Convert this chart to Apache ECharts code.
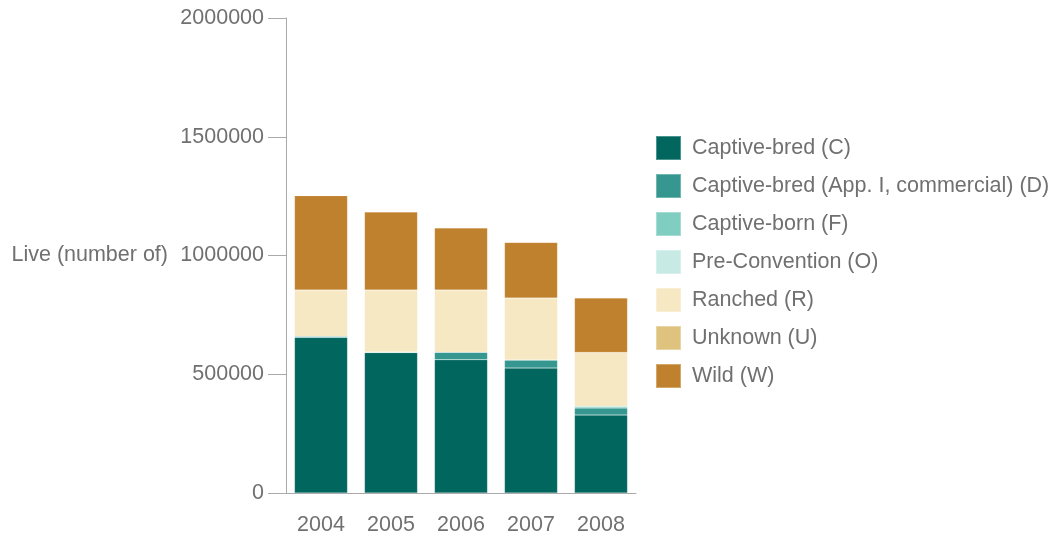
<!DOCTYPE html>
<html>
<head>
<meta charset="utf-8">
<script src="https://cdn.jsdelivr.net/npm/echarts@6/dist/echarts.min.js"></script>
<style>html,body{margin:0;padding:0;background:#fff}#c{width:1060px;height:537px}</style>
</head>
<body>
<div id="c"></div>
<script>
var years = ['2004', '2005', '2006', '2007', '2008'];
var yTicks = [0, 500000, 1000000, 1500000, 2000000];
var seriesNames = ['Captive-bred (C)', 'Captive-bred (App. I, commercial) (D)', 'Captive-born (F)', 'Pre-Convention (O)', 'Ranched (R)', 'Unknown (U)', 'Wild (W)'];
var captiveBred = [655000, 591000, 561000, 526000, 328000];
var captiveBredApp1 = [5000, 3000, 32000, 34000, 30000];
var captiveBorn = [0, 0, 0, 0, 7000];
var preConvention = [0, 0, 0, 0, 0];
var ranched = [195000, 261000, 262000, 261000, 227000];
var unknown = [0, 0, 0, 0, 0];
var wild = [397000, 328000, 261000, 234000, 229000];
var colors = ['#01665e', '#35978f', '#80cdc1', '#c7eae5', '#f6e8c3', '#dfc27d', '#bf812d'];

var dataSets = [captiveBred, captiveBredApp1, captiveBorn, preConvention, ranched, unknown, wild];
var textColor = '#707070';
var fontFam = '"Liberation Sans", Arial, Helvetica, sans-serif';
var fs = 21.5;

var chart = echarts.init(document.getElementById('c'), null, {renderer: 'canvas'});
chart.setOption({
  animation: false,
  color: colors,
  grid: {left: 286, top: 18, right: 424, bottom: 44, containLabel: false},
  legend: {
    orient: 'vertical', left: 655, top: 135, padding: 0,
    itemWidth: 25, itemHeight: 24, itemGap: 12,
    icon: 'rect',
    data: seriesNames,
    textStyle: {color: textColor, fontSize: fs, lineHeight: 24, fontFamily: fontFam, padding: [0, 0, 0, 6]}
  },
  xAxis: {
    type: 'category', data: years,
    axisLine: {lineStyle: {color: '#aaa', width: 1}},
    axisTick: {alignWithLabel: true, length: 12, lineStyle: {color: '#aaa'}},
    axisLabel: {color: textColor, fontSize: fs, fontFamily: fontFam, margin: 21}
  },
  yAxis: {
    type: 'value', min: yTicks[0], max: yTicks[yTicks.length - 1], interval: yTicks[1] - yTicks[0],
    name: 'Live (number of)', nameLocation: 'middle', nameRotate: 0, nameGap: 118,
    nameTextStyle: {color: textColor, fontSize: fs, fontFamily: fontFam},
    axisLine: {show: true, lineStyle: {color: '#aaa', width: 1}},
    axisTick: {show: true, length: 18, lineStyle: {color: '#aaa'}},
    splitLine: {show: false},
    axisLabel: {color: textColor, fontSize: fs, fontFamily: fontFam, margin: 22,
      formatter: function (v) { return String(v); }}
  },
  series: seriesNames.map(function (n, i) {
    return {
      name: n, type: 'bar', stack: 'total', barWidth: 53,
      data: dataSets[i],
      itemStyle: {color: colors[i], borderColor: 'rgba(255,255,255,0.3)', borderWidth: 0.5}
    };
  })
});
</script>
</body>
</html>
